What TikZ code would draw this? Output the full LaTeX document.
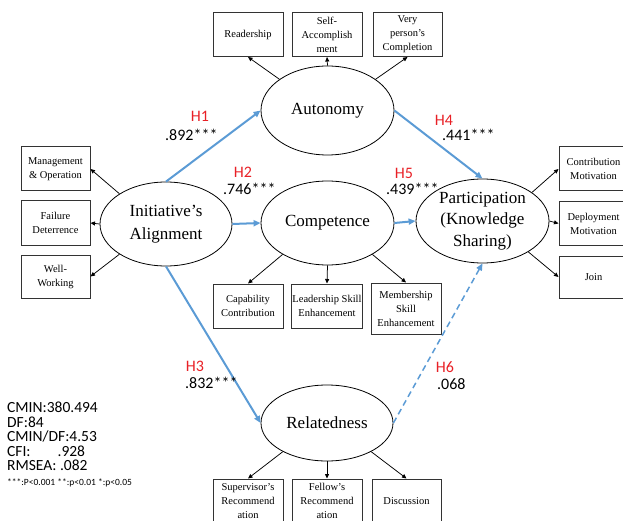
\documentclass[tikz,border=0pt]{standalone}
\usepackage{fontspec}
\setmainfont{Liberation Serif}
\newfontfamily\calibri{Carlito}
\usepackage{tikz}
\usetikzlibrary{shapes.geometric, arrows.meta}
\definecolor{pathblue}{RGB}{91,155,213}
\definecolor{hypred}{RGB}{232,32,38}

\begin{document}
\begin{tikzpicture}[x=1pt, y=-1pt,
  latent/.style={ellipse, draw, line width=.8pt, minimum width=133pt, minimum height=84pt, inner sep=0pt, align=center, font=\fontsize{17}{21.5}\selectfont},
  item/.style={rectangle, draw=black!80, line width=1pt, minimum width=70pt, minimum height=44pt, inner sep=1pt, align=center, font=\fontsize{10.5}{14}\selectfont},
  load/.style={-{Triangle[length=4.5pt,width=4pt]}, line width=.75pt},
  hpath/.style={-{Triangle[length=7pt,width=6pt]}, draw=pathblue, line width=2pt},
  hyp/.style={text=hypred, font=\calibri\fontsize{16}{16}\selectfont, inner sep=0pt},
  coef/.style={anchor=west, font=\calibri\fontsize{16}{16}\selectfont, inner sep=0pt}]
  \useasboundingbox (0,0) rectangle (623,521);

  \node [latent, minimum height=89pt] (auto) at (327.5, 110.5) {Autonomy};
  \node [latent, minimum width=132pt, align=center, font=\fontsize{17}{23}\selectfont] (init) at (166, 224) {Initiative's\\Alignment};
  \node [latent] (comp) at (327.5, 223) {Competence};
  \node [latent] (part) at (482.5, 221) {Participation\\(Knowledge\\Sharing)};
  \node [latent, minimum width=132pt, minimum height=76pt] (rel) at (327, 423) {Relatedness};

  \node [item] (lead) at (248, 34.5) {Readership};
  \node [item] (selfacc) at (327, 34.5) {Self-\\Accomplish\\ment};
  \node [item, minimum width=69pt] (compl) at (407.5, 34.5) {Very\\person's\\Completion};

  \node [item, minimum width=69pt] (mgmt) at (55.5, 169) {Management\\\& Operation};
  \node [item, minimum width=69pt] (fail) at (55.5, 223) {Failure\\Deterrence};
  \node [item, minimum width=69pt, minimum height=43pt] (well) at (55.5, 276.5) {Well-\\Working};

  \node [item] (capab) at (248, 306) {Capability\\Contribution};
  \node [item] (lskill) at (327, 306) {Leadership Skill\\Enhancement};
  \node [item, minimum height=51pt] (mskill) at (406, 308.5) {Membership\\Skill\\Enhancement};

  \node [item, minimum width=69pt] (contrib) at (593.5, 169) {Contribution\\Motivation};
  \node [item, minimum width=69pt, minimum height=43pt] (deploy) at (593.5, 223.5) {Deployment\\Motivation};
  \node [item, minimum width=69pt, minimum height=42pt] (join) at (593.5, 277) {Join};

  \node [item] (superv) at (248, 501) {Supervisor's\\Recommend\\ation};
  \node [item] (fellow) at (327, 501) {Fellow's\\Recommend\\ation};
  \node [item, minimum width=69pt] (discuss) at (406.5, 501) {Discussion};

  \draw [load] (auto.147) -- (lead.south);
  \draw [load] (auto.north) -- (selfacc.south);
  \draw [load] (auto.33) -- (compl.south);
  \draw [load] (init.147) -- (mgmt.east);
  \draw [load] (init.west) -- (fail.east);
  \draw [load] (init.213) -- (well.east);
  \draw [load] (comp.215) -- (capab.north);
  \draw [load] (comp.south) -- (lskill.north);
  \draw [load] (comp.325) -- (mskill.north);
  \draw [load] (part.30) -- (contrib.west);
  \draw [load] (part.east) -- (deploy.west);
  \draw [load] (part.326) -- (join.west);
  \draw [load] (rel.213) -- (superv.north);
  \draw [load] (rel.south) -- (fellow.north);
  \draw [load] (rel.327) -- (discuss.north);

  \draw [hpath] (init.north) -- (auto.west);
  \draw [hpath] (init.east) -- (comp.west);
  \draw [hpath] (init.south) -- (rel.west);
  \draw [hpath] (auto.east) -- (part.north);
  \draw [hpath] (comp.east) -- (part.west);
  \draw [hpath, dashed, dash pattern=on 6pt off 4pt, line width=1.5pt] (rel.east) -- (part.south);

  \node [hyp] (h1) at (200, 116) {H1};
  \node [coef] (c1) at (165, 135) {.892***};
  \node [hyp] (h2) at (243, 172) {H2};
  \node [coef] (c2) at (223, 189) {.746***};
  \node [hyp] (h3) at (195, 366) {H3};
  \node [coef] (c3) at (185, 383) {.832***};
  \node [hyp] (h4) at (444, 120) {H4};
  \node [coef] (c4) at (442, 135) {.441***};
  \node [hyp] (h5) at (404, 173) {H5};
  \node [coef] (c5) at (386, 189) {.439***};
  \node [hyp] (h6) at (445, 367) {H6};
  \node [coef] (c6) at (437, 384) {.068};

  \node [anchor=north west, inner sep=0pt, align=left, font=\calibri\fontsize{15.5}{14.5}\selectfont] (fit) at (7, 402) {CMIN:380.494\\DF:84\\CMIN/DF:4.53\\CFI:\hspace{27pt}.928\\RMSEA: .082\\{\fontsize{9.5}{11}\selectfont ***:P<0.001 **:p<0.01 *:p<0.05}};
\end{tikzpicture}
\end{document}
